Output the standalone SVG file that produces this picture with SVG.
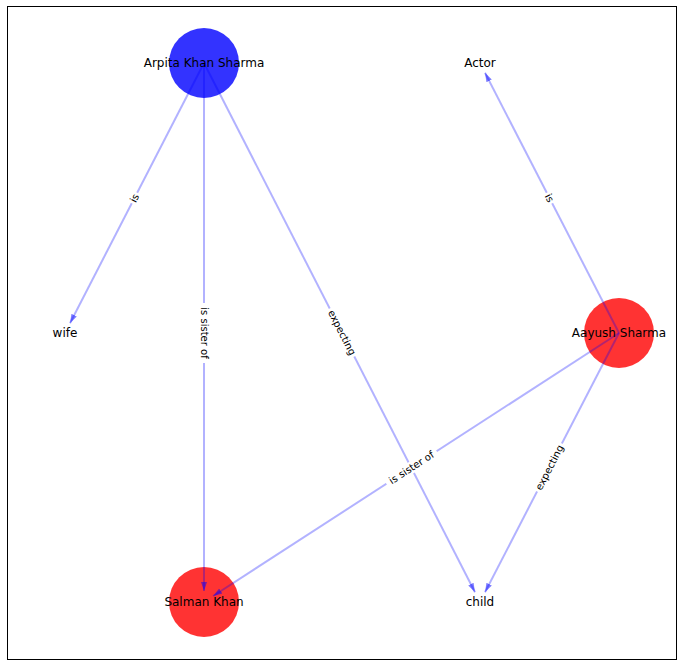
<svg xmlns="http://www.w3.org/2000/svg" width="683" height="666" viewBox="0 0 683 666">
<style>
.node-label{font-family:"DejaVu Sans",sans-serif;font-size:12px;fill:#000;text-anchor:middle;dominant-baseline:central}
.edge-label{font-family:"DejaVu Sans",sans-serif;font-size:10px;fill:#000;text-anchor:middle;dominant-baseline:central}
.edge{stroke:#0000ff;stroke-opacity:0.3;stroke-width:2;fill:none;marker-end:url(#arrow)}
.lbg{fill:#fff}
</style>
<defs>
<marker id="arrow" markerUnits="userSpaceOnUse" markerWidth="12" markerHeight="10" refX="9" refY="4" orient="auto">
<path d="M0,1 L9,4 L0,7 Z" fill="#0000ff" fill-opacity="0.5"/>
</marker>
</defs>
<rect x="7.5" y="6.5" width="669" height="653" fill="#fff" stroke="#000" stroke-width="1"/>
<g id="node-arpita"><circle cx="204" cy="63" r="35" fill="#0000ff" fill-opacity="0.8"/></g>
<g id="node-aayush"><circle cx="619" cy="333" r="35" fill="#ff0000" fill-opacity="0.8"/></g>
<g id="node-salman"><circle cx="204" cy="602" r="35" fill="#ff0000" fill-opacity="0.8"/></g>
<g id="edges">
<line class="edge" x1="204" y1="63" x2="70" y2="323.2"/>
<line class="edge" x1="204" y1="63" x2="204" y2="591"/>
<line class="edge" x1="204" y1="63" x2="475" y2="592.2"/>
<line class="edge" x1="619" y1="333" x2="485" y2="72.8"/>
<line class="edge" x1="619" y1="333" x2="213.2" y2="596"/>
<line class="edge" x1="619" y1="333" x2="485" y2="592.2"/>
<g transform="translate(134.5,198) rotate(-62.8)"><rect class="lbg" x="-6" y="-6" width="12" height="12"/><text class="edge-label">is</text></g>
<g transform="translate(204,333) rotate(90)"><rect class="lbg" x="-30" y="-6" width="60" height="12"/><text class="edge-label">is sister of</text></g>
<g transform="translate(342,332.5) rotate(62.9)"><rect class="lbg" x="-27" y="-6" width="54" height="12"/><text class="edge-label">expecting</text></g>
<g transform="translate(549.5,198) rotate(62.8)"><rect class="lbg" x="-6" y="-6" width="12" height="12"/><text class="edge-label">is</text></g>
<g transform="translate(411.5,467.5) rotate(-33)"><rect class="lbg" x="-30" y="-6" width="60" height="12"/><text class="edge-label">is sister of</text></g>
<g transform="translate(549.5,467.5) rotate(-62.7)"><rect class="lbg" x="-27" y="-6" width="54" height="12"/><text class="edge-label">expecting</text></g>
</g>
<g id="label-arpita"><text class="node-label" x="204" y="63">Arpita Khan Sharma</text></g>
<g id="node-actor"><text class="node-label" x="480" y="63">Actor</text></g>
<g id="node-wife"><text class="node-label" x="65" y="333">wife</text></g>
<g id="label-aayush"><text class="node-label" x="619" y="333">Aayush Sharma</text></g>
<g id="label-salman"><text class="node-label" x="204" y="602">Salman Khan</text></g>
<g id="node-child"><text class="node-label" x="480" y="602">child</text></g>
</svg>
